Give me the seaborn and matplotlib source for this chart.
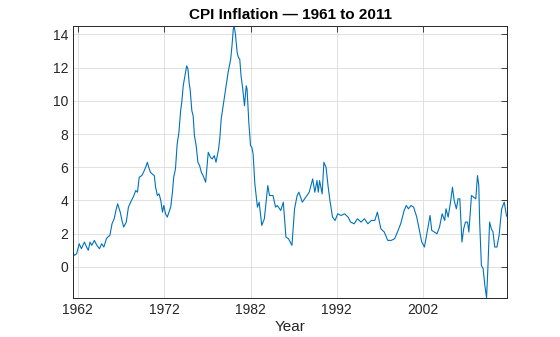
import matplotlib
matplotlib.use("Agg")
import matplotlib.pyplot as plt
import seaborn as sns
import pandas as pd

years = [1961.3, 1961.6, 1961.85, 1962.15, 1962.4, 1962.75, 1963.0, 1963.2, 1963.4, 1963.6,
         1963.9, 1964.2, 1964.5, 1964.75, 1965.0, 1965.3, 1965.45, 1965.7, 1965.95, 1966.2,
         1966.4, 1966.6, 1966.9, 1967.1, 1967.3, 1967.6, 1967.85,
         1968.2, 1968.4, 1968.7, 1968.9, 1969.1, 1969.4, 1969.6, 1969.85, 1970.05, 1970.2,
         1970.4, 1970.6, 1970.85, 1971.0, 1971.2, 1971.4, 1971.6, 1971.8, 1971.95, 1972.15,
         1972.35, 1972.55, 1972.75, 1972.95, 1973.1, 1973.3, 1973.5, 1973.7, 1973.9,
         1974.05, 1974.2, 1974.4, 1974.6, 1974.75, 1974.9, 1975.0, 1975.2, 1975.35, 1975.5,
         1975.7, 1975.9, 1976.1, 1976.3, 1976.5, 1976.8, 1976.95, 1977.1, 1977.35, 1977.55,
         1977.8, 1978.0, 1978.3, 1978.45, 1978.6, 1978.8, 1979.0, 1979.2, 1979.4, 1979.7,
         1979.85, 1980.0, 1980.1, 1980.25, 1980.45, 1980.6, 1980.75, 1980.9, 1981.1, 1981.3,
         1981.5, 1981.6, 1981.8, 1982.0, 1982.15, 1982.3, 1982.5, 1982.8, 1983.0, 1983.3,
         1983.6, 1984.0, 1984.2, 1984.6, 1984.9, 1985.1, 1985.5, 1985.8, 1986.1, 1986.4,
         1986.8, 1987.1, 1987.4, 1987.6, 1988.0, 1988.4, 1988.8, 1989.2, 1989.45, 1989.7,
         1989.85, 1990.0, 1990.3, 1990.5, 1990.75, 1991.0, 1991.2, 1991.5, 1991.8, 1992.1,
         1992.5, 1992.9, 1993.3, 1993.6, 1994.0, 1994.4, 1994.8, 1995.2, 1995.6, 1996.0,
         1996.4, 1996.7, 1997.1, 1997.5, 1997.9, 1998.3, 1998.7, 1999.1, 1999.4, 1999.8,
         2000.05, 2000.3, 2000.6, 2000.9, 2001.26, 2001.57, 2001.84, 2002.15, 2002.5, 2002.8,
         2003.0, 2003.3, 2003.6, 2003.9, 2004.2, 2004.5, 2004.65, 2004.9, 2005.2, 2005.4,
         2005.6, 2005.85, 2006.05, 2006.25, 2006.5, 2006.7, 2006.9, 2007.15, 2007.3, 2007.6,
         2007.85, 2008.1, 2008.3, 2008.45, 2008.55, 2008.75, 2008.95, 2009.15, 2009.35, 2009.5,
         2009.7, 2009.9, 2010.1, 2010.3, 2010.55, 2010.8, 2011.1, 2011.4, 2011.65, 2011.76]

inflation = [0.9, 0.7, 0.8, 1.4, 1.1, 1.5, 1.2, 1.0, 1.5, 1.3,
             1.6, 1.3, 1.1, 1.4, 1.2, 1.7, 1.8, 1.9, 2.6, 2.9,
             3.4, 3.8, 3.3, 2.8, 2.4, 2.7, 3.6,
             4.0, 4.2, 4.6, 4.5, 5.4, 5.5, 5.7, 6.0, 6.3, 6.0,
             5.7, 5.6, 5.5, 4.8, 4.3, 4.4, 4.0, 3.3, 3.7, 3.2,
             3.0, 3.3, 3.6, 4.5, 5.4, 5.9, 7.4, 8.1, 9.4,
             10.0, 10.9, 11.5, 12.1, 11.9, 11.0, 10.7, 9.4, 9.1, 7.9,
             7.3, 6.3, 6.1, 5.7, 5.5, 5.1, 6.0, 6.9, 6.6, 6.5,
             6.7, 6.3, 7.1, 7.8, 8.9, 9.6, 10.3, 11.0, 11.7, 12.5,
             13.3, 14.3, 14.5, 14.0, 12.9, 12.6, 12.5, 11.5, 10.7, 9.7,
             10.9, 10.7, 8.7, 7.3, 7.2, 6.8, 5.0, 3.6, 3.9, 2.5,
             2.9, 4.9, 4.3, 4.3, 3.6, 3.7, 3.4, 3.9, 1.8, 1.7,
             1.3, 3.5, 4.3, 4.5, 3.9, 4.2, 4.5, 5.3, 4.5, 5.2,
             4.5, 5.2, 4.4, 6.3, 6.0, 4.8, 4.0, 3.0, 2.8, 3.2,
             3.1, 3.2, 3.0, 2.7, 2.6, 2.9, 2.7, 2.9, 2.6, 2.8,
             2.8, 3.3, 2.3, 2.1, 1.6, 1.6, 1.7, 2.2, 2.6, 3.4,
             3.7, 3.5, 3.7, 3.6, 3.0, 2.2, 1.5, 1.2, 2.2, 3.1,
             2.2, 2.1, 2.0, 2.4, 3.2, 2.8, 3.5, 3.0, 4.0, 4.8,
             4.0, 3.5, 4.1, 4.1, 1.5, 2.3, 2.7, 2.7, 2.1, 4.3,
             4.2, 4.1, 5.5, 4.9, 2.7, 0.1, -0.1, -1.1, -1.86, -0.1,
             2.7, 2.3, 2.1, 1.2, 1.2, 1.9, 3.5, 3.9, 3.1, 3.0]

x_ticks = [1962, 1972, 1982, 1992, 2002]
y_ticks = [0, 2, 4, 6, 8, 10, 12, 14]
title_text = "CPI Inflation \u2014 1961 to 2011"
x_label = "Year"

df = pd.DataFrame({"Year": years, "CPI": inflation})

sns.set_style("white")
plt.rcParams["font.family"] = ["Liberation Sans", "DejaVu Sans"]
plt.rcParams["xtick.direction"] = "in"
plt.rcParams["ytick.direction"] = "in"

fig = plt.figure(figsize=(5.6, 3.37), dpi=100)
ax = fig.add_axes([0.131, 0.116, 0.775, 0.807])

sns.lineplot(data=df, x="Year", y="CPI", ax=ax, color="#0072BD", linewidth=0.8,
             estimator=None, sort=False)

ax.set_xlim(min(years) + 0.17, max(years))
ax.set_ylim(min(inflation), max(inflation))
ax.set_xticks(x_ticks)
ax.set_yticks(y_ticks)
ax.tick_params(axis="both", labelsize=10, colors="#262626", length=4, width=0.6,
               top=True, right=True, labeltop=False, labelright=False)
ax.grid(True, color="#dcdcdc", linewidth=0.6)
for s in ax.spines.values():
    s.set_color("#262626")
    s.set_linewidth(0.7)
ax.set_xlabel(x_label, fontsize=11, color="#262626", labelpad=2)
ax.set_ylabel("")
ax.set_title(title_text, fontsize=11, fontweight="bold", color="#000000", pad=5)

fig.savefig("out.png", dpi=100)
